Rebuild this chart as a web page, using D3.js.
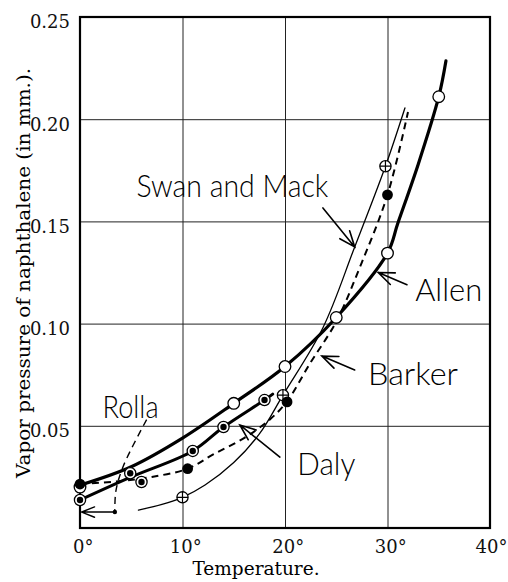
<!DOCTYPE html>
<html>
<head>
<meta charset="utf-8">
<script src="https://cdn.jsdelivr.net/npm/d3@7/dist/d3.min.js"></script>
<style>
  body { margin: 0; background: #fff; }
</style>
</head>
<body>
<svg class="chart"></svg>
<script>
// Size of the page
var width = 508, height = 582;

// Axis ticks
var xTicks = [0, 10, 20, 30, 40];
var yTicks = [0.05, 0.10, 0.15, 0.20, 0.25];

// Allen: heavy line, open circles
var allenT = [0, 5, 10, 15, 20, 25, 30, 31, 33, 35, 35.7];
var allenP = [0.021, 0.030, 0.044, 0.061, 0.079, 0.103, 0.1345, 0.149, 0.178, 0.211, 0.2285];
var allenObsT = [0, 15, 20, 25, 30, 35];
var allenObsP = [0.020, 0.061, 0.079, 0.103, 0.1345, 0.211];

// Barker: dashed line, filled circles
var barkerT = [0, 4, 7, 10.5, 13, 16, 18.5, 20.2, 22.5, 25, 27.5, 30, 32];
var barkerP = [0.0215, 0.023, 0.025, 0.029, 0.036, 0.044, 0.053, 0.062, 0.081, 0.101, 0.130, 0.163, 0.2035];
var barkerObsT = [0, 10.5, 20.2, 30];
var barkerObsP = [0.0215, 0.029, 0.0617, 0.163];

// Daly: heavy line, dotted circles
var dalyT = [0, 5, 11, 14, 18, 18.8];
var dalyP = [0.0137, 0.025, 0.0377, 0.0494, 0.0626, 0.0655];
var dalyObsT = [0, 4.9, 6, 11, 14, 18];
var dalyObsP = [0.0137, 0.0268, 0.0225, 0.0377, 0.0494, 0.0626];

// Swan and Mack: thin line, crossed circles
var swanT = [5.7, 8, 10, 12.2, 15, 17.5, 19.8, 23.7, 26.8, 29.8, 31.7];
var swanP = [0.0088, 0.0115, 0.015, 0.021, 0.032, 0.046, 0.065, 0.098, 0.1375, 0.177, 0.2055];
var swanObsT = [10, 19.8, 29.8];
var swanObsP = [0.015, 0.065, 0.177];

// Rolla: single value, with a dashed leader to the label
var rollaT = 3.4, rollaP = 0.0078;
var rollaLeaderT = [6.5, 4.2, 3.5, 3.4];
var rollaLeaderP = [0.053, 0.030, 0.018, 0.0078];

// Curve labels and pointer arrows [tailT, tailP] -> [tipT, tipP]
var labelText = ["Swan and Mack", "Allen", "Barker", "Daly", "Rolla"];
var labelT = [5.5, 32.7, 28.1, 21.2, 2.2];
var labelP = [0.162, 0.111, 0.070, 0.026, 0.054];
var labelW = [192, 67, 90, 58, 56];
var arrowFrom = [[23.7, 0.1566], [31.9, 0.119], [26.8, 0.0773], [19.5, 0.0347]];
var arrowTo = [[26.8, 0.1375], [29.1, 0.125], [23.6, 0.0841], [15.6, 0.0504]];

// Scales
var x = d3.scaleLinear().domain([0, 40]).range([80, 490]);
var y = d3.scaleLinear().domain([0, 0.25]).range([528, 17]);

var svg = d3.select(".chart")
  .attr("width", width)
  .attr("height", height);

var serif = "'DejaVu Serif', serif";
var hand = "Lato, 'Open Sans', Roboto, 'DejaVu Sans', sans-serif";

// Grid via axes
var xAxis = svg.append("g")
  .attr("transform", "translate(0,528)")
  .call(d3.axisBottom(x).tickValues(xTicks).tickSize(-(528 - 17)).tickFormat(function (d) { return d + "°"; }));
xAxis.select(".domain").remove();
xAxis.selectAll("line").attr("stroke", "#222").attr("stroke-width", 1);
xAxis.selectAll("text")
  .attr("y", 25).attr("dy", null)
  .attr("dx", "0.15em")
  .style("font-family", serif).style("font-size", "18px").attr("fill", "#111");
// last label sits at the page edge
xAxis.selectAll(".tick").filter(function (d) { return d === 40; }).select("text")
  .attr("text-anchor", "end").attr("x", 507 - x(40)).attr("dx", null);

var yAxis = svg.append("g")
  .attr("transform", "translate(80,0)")
  .call(d3.axisLeft(y).tickValues(yTicks).tickSize(-(490 - 80)).tickFormat(d3.format(".2f")));
yAxis.select(".domain").remove();
yAxis.selectAll("line").attr("stroke", "#222").attr("stroke-width", 1);
yAxis.selectAll("text")
  .attr("x", -10).attr("dy", "0.6em")
  .style("font-family", serif).style("font-size", "18px").attr("fill", "#111");

// Frame
svg.append("rect")
  .attr("x", 80).attr("y", 17)
  .attr("width", 410).attr("height", 511)
  .attr("fill", "none").attr("stroke", "#000").attr("stroke-width", 2.2);

// Axis titles
svg.append("text")
  .attr("x", 256).attr("y", 575)
  .attr("text-anchor", "middle")
  .style("font-family", serif).style("font-size", "18.5px")
  .text("Temperature.");

svg.append("text")
  .attr("transform", "translate(30,273) rotate(-90)")
  .attr("text-anchor", "middle")
  .attr("textLength", 410).attr("lengthAdjust", "spacingAndGlyphs")
  .style("font-family", serif).style("font-size", "18.5px")
  .text("Vapor pressure of naphthalene (in mm.).");

// Curves
function pts(ts, ps) {
  return ts.map(function (t, i) { return [t, ps[i]]; });
}
var line = d3.line()
  .x(function (d) { return x(d[0]); })
  .y(function (d) { return y(d[1]); })
  .curve(d3.curveCatmullRom.alpha(0.5));

var plot = svg.append("g").attr("fill", "none").attr("stroke", "#000").attr("stroke-linecap", "round");

plot.append("path").attr("d", line(pts(swanT, swanP))).attr("stroke-width", 1.3);
plot.append("path").attr("d", line(pts(barkerT, barkerP))).attr("stroke-width", 2).attr("stroke-dasharray", "7,5").attr("stroke-linecap", "butt");
plot.append("path").attr("d", line(pts(dalyT, dalyP))).attr("stroke-width", 3);
plot.append("path").attr("d", line(pts(allenT, allenP))).attr("stroke-width", 3.2);

// Rolla leader and arrow to the axis
plot.append("path").attr("d", line(pts(rollaLeaderT, rollaLeaderP)))
  .attr("stroke-width", 1.4).attr("stroke-dasharray", "7,5").attr("stroke-linecap", "butt");

function arrow(t0, p0, t1, p1, len, w) {
  var x0 = x(t0), y0 = y(p0), x1 = x(t1), y1 = y(p1);
  var a = Math.atan2(y1 - y0, x1 - x0);
  var s = 0.38;
  var ax = x1 - len * Math.cos(a - s), ay = y1 - len * Math.sin(a - s);
  var bx = x1 - len * Math.cos(a + s), by = y1 - len * Math.sin(a + s);
  plot.append("path")
    .attr("d", "M" + x0 + "," + y0 + "L" + x1 + "," + y1 + "M" + ax + "," + ay + "L" + x1 + "," + y1 + "L" + bx + "," + by)
    .attr("stroke-width", w);
}
arrow(rollaT, rollaP, 0.15, rollaP, 14, 1.4);
svg.append("circle").attr("cx", x(rollaT)).attr("cy", y(rollaP)).attr("r", 2.2).attr("fill", "#000");

arrowFrom.forEach(function (f, i) {
  arrow(f[0], f[1], arrowTo[i][0], arrowTo[i][1], 17, 1.6);
});

// Markers
var marks = svg.append("g").attr("stroke", "#000");

marks.selectAll(".open").data(pts(allenObsT, allenObsP)).enter()
  .append("circle").attr("class", "open")
  .attr("cx", function (d) { return x(d[0]); }).attr("cy", function (d) { return y(d[1]); })
  .attr("r", 5.8).attr("fill", "#fff").attr("stroke-width", 1.3);

var dotted = marks.selectAll(".dotted").data(pts(dalyObsT, dalyObsP)).enter()
  .append("g").attr("class", "dotted")
  .attr("transform", function (d) { return "translate(" + x(d[0]) + "," + y(d[1]) + ")"; });
dotted.append("circle").attr("r", 5.6).attr("fill", "#fff").attr("stroke-width", 1.3);
dotted.append("circle").attr("r", 3.2).attr("fill", "#000").attr("stroke", "none");

var crossed = marks.selectAll(".crossed").data(pts(swanObsT, swanObsP)).enter()
  .append("g").attr("class", "crossed")
  .attr("transform", function (d) { return "translate(" + x(d[0]) + "," + y(d[1]) + ")"; });
crossed.append("circle").attr("r", 5.6).attr("fill", "#fff").attr("stroke-width", 1.3);
crossed.append("path").attr("d", "M-5.6,0H5.6M0,-5.6V5.6").attr("stroke-width", 1.2);

marks.selectAll(".filled").data(pts(barkerObsT, barkerObsP)).enter()
  .append("circle").attr("class", "filled")
  .attr("cx", function (d) { return x(d[0]); }).attr("cy", function (d) { return y(d[1]); })
  .attr("r", 5.4).attr("fill", "#000").attr("stroke", "none");

// Curve labels
labelText.forEach(function (t, i) {
  svg.append("text")
    .attr("x", x(labelT[i])).attr("y", y(labelP[i]))
    .attr("textLength", labelW[i]).attr("lengthAdjust", "spacingAndGlyphs")
    .style("font-family", hand).style("font-size", "31px").style("font-weight", 300)
    .attr("fill", "#000")
    .text(t);
});
</script>
</body>
</html>
